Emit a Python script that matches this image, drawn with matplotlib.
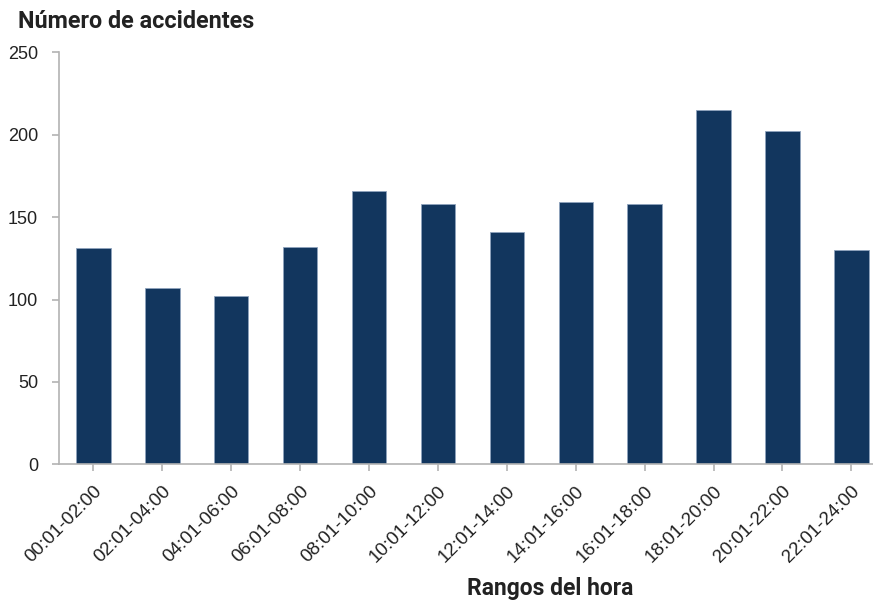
import matplotlib.pyplot as plt
import numpy as np

categories = ["00:01-02:00", "02:01-04:00", "04:01-06:00", "06:01-08:00",
              "08:01-10:00", "10:01-12:00", "12:01-14:00", "14:01-16:00",
              "16:01-18:00", "18:01-20:00", "20:01-22:00", "22:01-24:00"]
accidentes = [131, 107, 102, 132, 166, 158, 141, 159, 158, 215, 202, 130]
y_ticks = [0, 50, 100, 150, 200, 250]

bar_color = "#12365e"
axis_color = "#b3b3b3"
text_color = "#222222"

fig = plt.figure(figsize=(8.73, 6.01), dpi=100)
ax = fig.add_axes([59 / 873, (601 - 464.3) / 601, 826.8 / 873, 412 / 601])

x = np.arange(len(categories))
ax.bar(x, accidentes, width=0.5, color=bar_color, edgecolor="#8ea3bd", linewidth=0.6)

ax.set_xlim(-0.5, 11.5)
ax.set_ylim(0, 250)
ax.set_yticks(y_ticks)
ax.set_xticks(x)
ax.set_xticklabels(categories, rotation=45, ha="right", rotation_mode="anchor",
                   fontsize=13.5, color=text_color, family="Liberation Sans")
for lab in ax.get_yticklabels():
    lab.set_fontsize(13)
    lab.set_color(text_color)
    lab.set_family("Liberation Sans")

for side in ["top", "right"]:
    ax.spines[side].set_visible(False)
for side in ["left", "bottom"]:
    ax.spines[side].set_color(axis_color)
    ax.spines[side].set_linewidth(1.2)
ax.tick_params(axis="both", color=axis_color, length=5, width=1.2)
ax.tick_params(axis="y", pad=10)
ax.tick_params(axis="x", pad=8)

fig.text(18 / 873, 1 - 22 / 601, "Número de accidentes", fontsize=16.8, fontweight="bold",
         family="Roboto", color=text_color, va="center", ha="left")
fig.text(550 / 873, 1 - 588 / 601, "Rangos del hora", fontsize=16.5, fontweight="bold",
         family="Roboto", color=text_color, va="center", ha="center")

fig.savefig("out.png", dpi=100)
